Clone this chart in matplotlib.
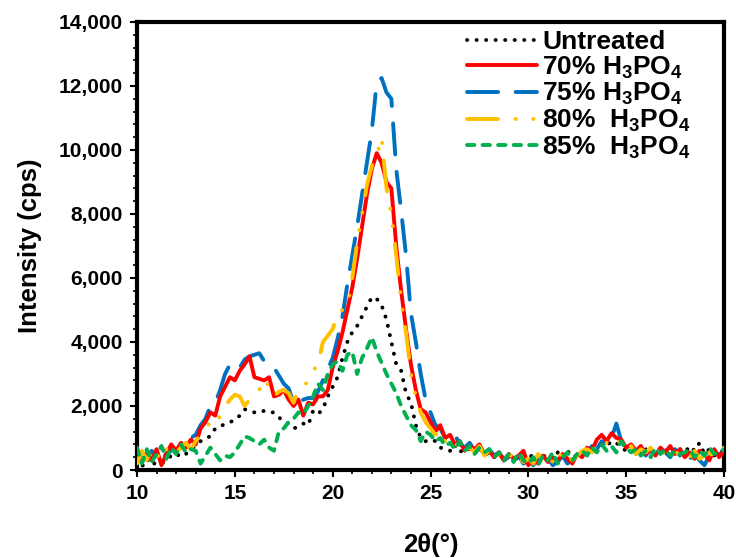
import numpy as np
import matplotlib
matplotlib.use("Agg")
import matplotlib.pyplot as plt

plt.rcParams['font.family'] = ['Liberation Sans', 'DejaVu Sans']
plt.rcParams['font.weight'] = 'bold'
plt.rcParams['mathtext.fontset'] = 'custom'
plt.rcParams['mathtext.rm'] = 'Liberation Sans:bold'
plt.rcParams['mathtext.bf'] = 'Liberation Sans:bold'
plt.rcParams['mathtext.it'] = 'Liberation Sans:bold'

# 2-theta scan grid (degrees)
two_theta = np.arange(10, 40.001, 0.25)

untreated = [
    300, 100, 350, 150, 250, 200, 300, 450, 400, 550, 500, 650,
    750, 900, 1000, 1050, 1300, 1350, 1450, 1500, 1550, 1700, 1900, 1850,
    1800, 1800, 1850, 1800, 1800, 1650, 1500, 1450, 1300, 1350, 1450, 1400,
    1850, 1750, 1900, 2300, 2600, 2900, 3500, 4000, 4300, 4500, 4800, 5100,
    5400, 5350, 5150, 4700, 4000, 3300, 3100, 2400, 2100, 1400, 1000, 900,
    950, 900, 700, 650, 600, 800, 550, 700, 650, 500, 700, 450,
    550, 400, 500, 350, 450, 300, 400, 250, 350, 500, 300, 450,
    400, 300, 550, 350, 600, 400, 450, 500, 550, 650, 700, 800,
    750, 900, 850, 700, 600, 750, 650, 500, 650, 500, 700, 550,
    600, 700, 500, 650, 550, 750, 600, 850, 500, 650, 450, 600,
    550]

h3po4_70 = [
    400, 250, 550, 300, 650, 150, 500, 800, 600, 850, 700, 950,
    800, 1300, 1500, 1800, 1700, 2300, 2600, 2900, 2800, 3100, 3300, 3550,
    2900, 2850, 2800, 2900, 2300, 2350, 2500, 2200, 2000, 2200, 1700, 2100,
    2050, 2300, 2300, 2500, 3200, 3700, 4300, 5000, 5700, 6600, 7600, 8600,
    9400, 9900, 9600, 9000, 8800, 7000, 5600, 4400, 3300, 2500, 1900, 1800,
    1500, 1200, 1400, 1000, 1100, 800, 900, 600, 750, 650, 800, 500,
    600, 400, 550, 300, 500, 350, 450, 600, 150, 350, 200, 450,
    250, 400, 300, 500, 350, 200, 500, 400, 700, 600, 950, 1100,
    900, 1150, 1000, 950, 700, 800, 600, 750, 500, 650, 450, 700,
    550, 750, 500, 650, 400, 550, 350, 600, 500, 300, 650, 400,
    600]

h3po4_75 = [
    300, 500, 350, 600, 450, 700, 400, 650, 550, 800, 650, 1000,
    1100, 1400, 1600, 2000, 2100, 2500, 3000, 3300, 3350, 3200, 3450, 3550,
    3600, 3650, 3400, 3250, 3200, 2950, 2700, 2550, 2100, 2050, 2200, 2250,
    2250, 2450, 2800, 3150, 3500, 4100, 4800, 5800, 6700, 7600, 8600, 9600,
    10600, 12100, 12250, 11800, 11600, 9400, 8100, 6700, 4900, 4000, 3000, 2200,
    1800, 1400, 1300, 1000, 900, 1100, 800, 700, 850, 600, 750, 500,
    650, 450, 550, 300, 400, 250, 450, 200, 300, 150, 400, 200,
    350, 150, 250, 450, 200, 350, 400, 600, 550, 750, 650, 900,
    800, 1000, 1450, 900, 650, 850, 500, 700, 450, 650, 400, 600,
    550, 400, 650, 450, 600, 350, 500, 300, 150, 450, 250, 500,
    550]

h3po4_80 = [
    200, 600, 300, 700, 500, 300, 650, 750, 550, 700, 850, 650,
    900, 1100, 1300, 1500, 1400, 1700, 2000, 2200, 2350, 2300, 2000, 2200,
    2400, 2500, 2850, 2600, 2300, 2450, 2500, 2400, 2100, 2500, 2650, 2750,
    3100, 3300, 4000, 4200, 4400, 4900, 5000, 5100, 6000, 7100, 8000, 8900,
    9500, 9800, 10400, 8800, 8000, 6700, 5300, 4300, 3000, 2300, 1800, 1500,
    1300, 1100, 1250, 900, 1000, 750, 850, 600, 700, 550, 750, 450,
    600, 350, 500, 400, 550, 300, 450, 250, 350, 200, 500, 300,
    450, 250, 600, 350, 500, 300, 450, 600, 650, 550, 800, 700,
    850, 750, 950, 800, 600, 750, 500, 650, 550, 700, 450, 600,
    500, 650, 600, 450, 550, 400, 600, 350, 450, 550, 400, 600,
    700]

h3po4_85 = [
    700, 200, 650, 250, 500, 750, 350, 700, 500, 800, 550, 650,
    600, 200, 450, 700, 500, 300, 450, 400, 550, 800, 1050, 1000,
    900, 800, 950, 700, 600, 1200, 1300, 1500, 1600, 1800, 1750, 2000,
    2300, 2700, 2500, 3000, 3300, 3400, 3100, 3600, 3700, 3000, 3500, 3800,
    4150, 3700, 3350, 3000, 2700, 2400, 2000, 1700, 1400, 1250, 900, 1200,
    1100, 900, 1000, 750, 850, 650, 900, 600, 750, 500, 700, 550,
    650, 400, 550, 300, 500, 250, 550, 300, 200, 400, 150, 450,
    300, 550, 200, 400, 550, 300, 500, 600, 450, 700, 550, 800,
    600, 750, 550, 900, 700, 550, 650, 450, 600, 400, 700, 500,
    650, 450, 600, 500, 550, 650, 400, 600, 450, 700, 500, 550,
    650]

labels = ['Untreated',
          r'70% H$_{\mathbf{3}}$PO$_{\mathbf{4}}$',
          r'75% H$_{\mathbf{3}}$PO$_{\mathbf{4}}$',
          r'80%  H$_{\mathbf{3}}$PO$_{\mathbf{4}}$',
          r'85%  H$_{\mathbf{3}}$PO$_{\mathbf{4}}$']

fig = plt.figure(figsize=(7.36, 5.58), dpi=100)
ax = fig.add_axes([137/736, 1-470/558, (724-137)/736, (470-22)/558])

lw = 2.8
l0, = ax.plot(two_theta, untreated, color='black', lw=lw, ls=(0, (0.05, 2.4)),
              dash_capstyle='round', zorder=2)
l2, = ax.plot(two_theta, h3po4_75, color='#0070C0', lw=lw, ls=(0, (8.0, 4.5)),
              dash_capstyle='round', zorder=3)
l1, = ax.plot(two_theta, h3po4_70, color='#FF0000', lw=lw, ls='-',
              solid_capstyle='round', zorder=4)
l3, = ax.plot(two_theta, h3po4_80, color='#FFC000', lw=lw,
              ls=(0, (8.0, 4.5, 0.05, 4.5, 0.05, 4.5)),
              dash_capstyle='round', zorder=5)
l4, = ax.plot(two_theta, h3po4_85, color='#00B050', lw=lw, ls=(0, (1.9, 2.1)),
              dash_capstyle='round', zorder=6)

ax.set_xlim(10, 40)
ax.set_ylim(0, 14000)
ax.set_xticks(np.arange(10, 41, 5))
ax.set_xticks(np.arange(10, 41, 1), minor=True)
ax.set_yticks(np.arange(0, 14001, 2000))
ax.set_yticks(np.arange(0, 14001, 400), minor=True)
ax.set_yticklabels([f'{v:,}' for v in range(0, 14001, 2000)])

for s in ax.spines.values():
    s.set_linewidth(3)
ax.tick_params(which='major', direction='out', length=5, width=1.5,
               labelsize=15, pad=5)
ax.tick_params(which='minor', direction='out', length=3, width=1.2)
for t in ax.get_xticklabels() + ax.get_yticklabels():
    t.set_fontweight('bold')

ax.set_ylabel('Intensity (cps)', fontsize=18.5, fontweight='bold', labelpad=12)
ax.set_xlabel('2θ(°)', fontsize=18.5, fontweight='bold', labelpad=22)

leg = ax.legend([l0, l1, l2, l3, l4], labels, loc='upper left',
                bbox_to_anchor=((467 - 137) / 587, (470 - 30) / 448),
                frameon=False, prop={'size': 19, 'weight': 'bold'},
                handlelength=2.65, handletextpad=0.2, labelspacing=0.02,
                borderpad=0, borderaxespad=0)

fig.savefig('out.png', dpi=100)
